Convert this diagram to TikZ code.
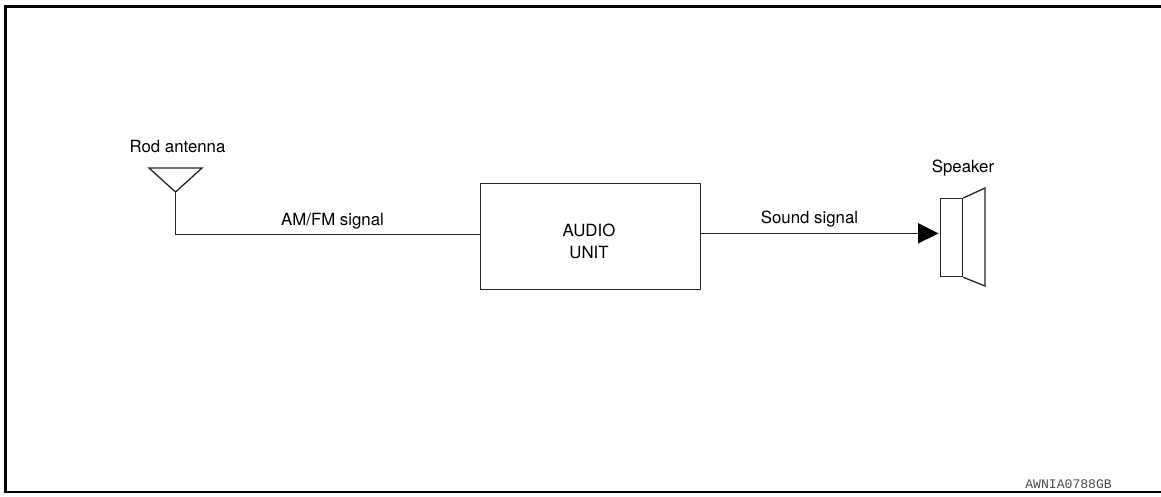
\documentclass[tikz,border=0pt]{standalone}
\usepackage{fontspec}
\setmainfont{TeX Gyre Heros}
\setmonofont{Liberation Mono}
\usetikzlibrary{arrows.meta}
\tikzset{
  x=1pt,y=-1pt,
  frameline/.style={draw=black,line width=2.8pt},
  thinline/.style={draw=black!85,line width=1.3pt},
  lbl/.style={font=\fontsize{16.8pt}{22pt}\selectfont,text=black,inner sep=0pt,align=center},
  code/.style={font=\ttfamily\fontsize{13.1pt}{15pt}\selectfont,text=black!70,inner sep=0pt,anchor=east},
}
\begin{document}
\begin{tikzpicture}
\useasboundingbox (0,0) rectangle (1161,496);
\draw[frameline] (5.5,6.5) -- (1161,6.5) (5.5,5.2) -- (5.5,493) (4.2,492) -- (1161,492);
\node[draw=black!85,line width=1.3pt,minimum width=220pt,minimum height=106pt,inner sep=0pt,anchor=north west] (audio) at (479.5,182.5) {};
\node[lbl] (audiotxt) at (589,241.5) {AUDIO\\UNIT};
\coordinate (ant) at (175.5,192);
\coordinate (antl) at (149,168);
\coordinate (antr) at (202,168);
\draw[thinline,line join=miter] (antl) -- (antr) -- (ant) -- cycle;
\coordinate (corner) at (175.5,234.5);
\draw[thinline] (ant) -- (corner) -- (corner -| audio.west);
\node[lbl] (rod) at (177.5,146.5) {Rod antenna};
\node[lbl] (am) at (332.5,221.5) {AM/FM signal};
\node[lbl] (snd) at (809.5,219.5) {Sound signal};
\node[lbl] (spk) at (963,168.5) {Speaker};
\node[draw=black!85,line width=1.3pt,minimum width=22pt,minimum height=78pt,inner sep=0pt,anchor=north west] (box) at (940,198) {};
\coordinate (ctr) at (904,233.5);
\draw[thinline] (box.north east) -- (985,188) -- (985,286) -- (box.south east);
\draw[thinline] (audio.east |- ctr) -- (918,233.5);
\path[fill=black] (918,223) -- (938.5,233.5) -- (918,243.5) -- cycle;
\node[code] (codetxt) at (1112,484) {AWNIA0788GB};
\end{tikzpicture}
\end{document}
